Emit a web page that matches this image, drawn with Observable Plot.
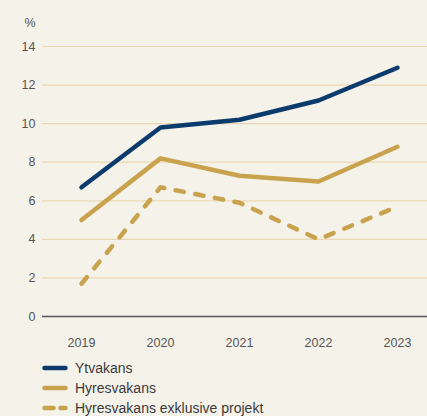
<!DOCTYPE html>
<html>
<head>
<meta charset="utf-8">
<script src="https://cdn.jsdelivr.net/npm/d3@7"></script>
<script src="https://cdn.jsdelivr.net/npm/@observablehq/plot@0.6"></script>
<style>
  html, body { margin: 0; padding: 0; background: #f5f2ea; }
  body { width: 427px; height: 416px; overflow: hidden; font-family: "Liberation Sans", Arial, sans-serif; }
  #legend { margin-top: 6px; padding-left: 42px; font-size: 14px; color: #3a3a3a; }
  #legend .row { display: flex; align-items: center; height: 20px; }
  #legend svg { margin-right: 7px; }
</style>
</head>
<body>
<div id="chart"></div>
<div id="legend"></div>
<script>
const years = ["2019", "2020", "2021", "2022", "2023"];
const ytvakans = [6.7, 9.8, 10.2, 11.2, 12.9];
const hyresvakans = [5.0, 8.2, 7.3, 7.0, 8.8];
const hyresvakansExkl = [1.7, 6.7, 5.9, 4.0, 5.7];
const seriesNames = ["Ytvakans", "Hyresvakans", "Hyresvakans exklusive projekt"];
const yTicks = [0, 2, 4, 6, 8, 10, 12, 14];

const navy = "#0b3b6c";
const gold = "#c9a24e";

const toRows = (vals, name) => years.map((y, i) => ({year: y, value: vals[i], series: name}));
const d1 = toRows(ytvakans, seriesNames[0]);
const d2 = toRows(hyresvakans, seriesNames[1]);
const d3s = toRows(hyresvakansExkl, seriesNames[2]);

const chart = Plot.plot({
  width: 427,
  height: 352,
  marginLeft: 42,
  marginRight: 0,
  marginTop: 46,
  marginBottom: 36,
  style: {background: "#f5f2ea", fontFamily: "Liberation Sans, Arial, sans-serif", fontSize: "12.5px", color: "#555"},
  x: {type: "point", domain: years, range: [80, 397], padding: 0, label: null},
  y: {domain: [0, 14], ticks: yTicks, label: null},
  marks: [
    Plot.ruleY(yTicks.filter(t => t > 0), {stroke: "#ead8b1", strokeWidth: 1.2}),
    Plot.ruleY([0], {stroke: "#555", strokeWidth: 1.6}),
    Plot.axisY({ticks: yTicks, tickSize: 0, tickPadding: 7, label: null, fill: "#555"}),
    Plot.axisX({tickSize: 0, tickPadding: 22, label: null, fill: "#555"}),
    Plot.text(["%"], {frameAnchor: "top-left", dx: -7, dy: -24, textAnchor: "end", lineAnchor: "middle", fill: "#555"}),
    Plot.line(d3s, {x: "year", y: "value", stroke: gold, strokeWidth: 4.5, strokeDasharray: "8.5,11.5", strokeLinecap: "round", strokeLinejoin: "round"}),
    Plot.line(d2, {x: "year", y: "value", stroke: gold, strokeWidth: 4.5, strokeLinecap: "round", strokeLinejoin: "round"}),
    Plot.line(d1, {x: "year", y: "value", stroke: navy, strokeWidth: 4.5, strokeLinecap: "round", strokeLinejoin: "round"})
  ]
});
document.getElementById("chart").appendChild(chart);

const legendItems = [
  {name: seriesNames[0], color: navy, dash: null},
  {name: seriesNames[1], color: gold, dash: null},
  {name: seriesNames[2], color: gold, dash: "9,7"}
];
const legend = document.getElementById("legend");
for (const it of legendItems) {
  const row = document.createElement("div");
  row.className = "row";
  row.innerHTML = `<svg width="26" height="8"><line x1="2.5" y1="4" x2="23.5" y2="4" stroke="${it.color}" stroke-width="4.5" stroke-linecap="round" ${it.dash ? `stroke-dasharray="${it.dash}"` : ""}/></svg><span>${it.name}</span>`;
  legend.appendChild(row);
}
</script>
</body>
</html>
